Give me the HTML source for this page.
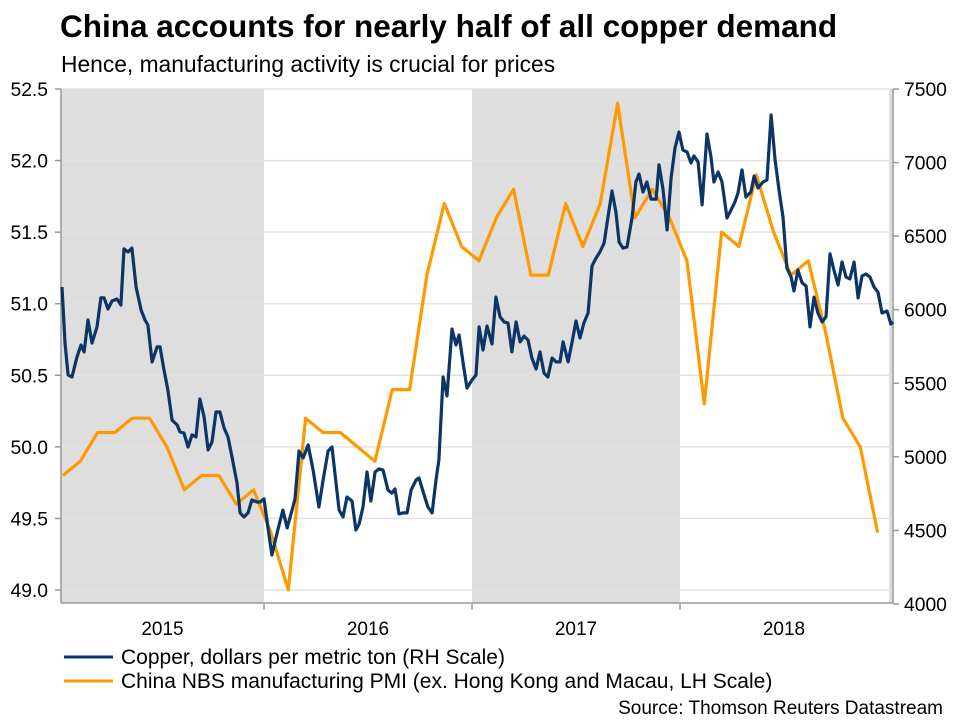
<!DOCTYPE html>
<html><head><meta charset="utf-8"><style>
body{margin:0;background:#fff;font-family:"Liberation Sans",Arial,sans-serif;}
svg{display:block}
</style></head><body>
<svg id="chart" width="960" height="720" viewBox="0 0 960 720" xmlns="http://www.w3.org/2000/svg" font-family="Liberation Sans, Arial, sans-serif">
<text x="60" y="37" font-size="31.5" font-weight="bold" fill="#000">China accounts for nearly half of all copper demand</text>
<text x="61" y="72" font-size="22.8" fill="#000">Hence, manufacturing activity is crucial for prices</text>
<g id="bg"></g><g id="grid"></g><g id="axes"></g><g id="series"></g>
<g>
<line x1="64" y1="657" x2="113" y2="657" stroke="#0a3566" stroke-width="3"/>
<text x="121" y="664" font-size="21">Copper, dollars per metric ton (RH Scale)</text>
<line x1="64" y1="681" x2="113" y2="681" stroke="#ff9900" stroke-width="3"/>
<text x="121" y="688" font-size="21">China NBS manufacturing PMI (ex. Hong Kong and Macau, LH Scale)</text>
</g>
<text x="943" y="714" font-size="19" text-anchor="end">Source: Thomson Reuters Datastream</text>
</svg>
<script>
const yearLabels=["2015","2016","2017","2018"];
const leftTicks=[49.0,49.5,50.0,50.5,51.0,51.5,52.0,52.5];
const rightTicks=[4000,4500,5000,5500,6000,6500,7000,7500];
const pmiValues=[49.8,49.9,50.1,50.1,50.2,50.2,50.0,49.7,49.8,49.8,49.6,49.7,
49.4,49.0,50.2,50.1,50.1,50.0,49.9,50.4,50.4,51.2,51.7,51.4,
51.3,51.6,51.8,51.2,51.2,51.7,51.4,51.7,52.4,51.6,51.8,51.6,
51.3,50.3,51.5,51.4,51.9,51.5,51.2,51.3,50.8,50.2,50.0,49.4];
const copperDates=[2015.029,2015.043,2015.058,2015.077,2015.101,2015.120,2015.135,2015.154,2015.173,2015.197,2015.216,2015.231,2015.250,2015.269,2015.293,2015.312,2015.327,2015.346,2015.365,2015.385,2015.409,2015.428,2015.442,2015.462,2015.486,2015.500,2015.519,2015.538,2015.558,2015.582,2015.596,2015.615,2015.635,2015.654,2015.673,2015.692,2015.712,2015.731,2015.750,2015.769,2015.788,2015.808,2015.827,2015.846,2015.870,2015.885,2015.904,2015.923,2015.942,2015.966,2015.981,2016.000,2016.014,2016.038,2016.063,2016.091,2016.111,2016.135,2016.149,2016.168,2016.188,2016.212,2016.236,2016.264,2016.284,2016.308,2016.327,2016.341,2016.361,2016.380,2016.399,2016.423,2016.442,2016.457,2016.476,2016.495,2016.514,2016.534,2016.553,2016.572,2016.596,2016.615,2016.630,2016.649,2016.668,2016.688,2016.707,2016.731,2016.745,2016.764,2016.788,2016.808,2016.827,2016.841,2016.861,2016.880,2016.904,2016.923,2016.938,2016.957,2016.976,2017.000,2017.019,2017.034,2017.053,2017.072,2017.096,2017.115,2017.135,2017.154,2017.173,2017.192,2017.212,2017.231,2017.250,2017.269,2017.288,2017.308,2017.327,2017.346,2017.365,2017.385,2017.404,2017.423,2017.438,2017.462,2017.481,2017.500,2017.519,2017.538,2017.558,2017.577,2017.596,2017.615,2017.635,2017.654,2017.673,2017.692,2017.707,2017.726,2017.745,2017.769,2017.788,2017.803,2017.822,2017.841,2017.861,2017.885,2017.899,2017.918,2017.938,2017.957,2017.976,2017.995,2018.014,2018.034,2018.053,2018.067,2018.087,2018.106,2018.130,2018.149,2018.163,2018.183,2018.202,2018.226,2018.245,2018.264,2018.279,2018.298,2018.317,2018.341,2018.356,2018.375,2018.399,2018.418,2018.438,2018.457,2018.476,2018.495,2018.514,2018.534,2018.548,2018.567,2018.587,2018.606,2018.625,2018.644,2018.663,2018.683,2018.702,2018.721,2018.740,2018.760,2018.779,2018.798,2018.817,2018.837,2018.856,2018.875,2018.894,2018.913,2018.933,2018.952,2018.971,2018.995,2019.014,2019.024];
const copperValues=[6154,5774,5556,5543,5679,5760,5713,5930,5774,5883,6080,6080,6005,6059,6073,6032,6413,6392,6419,6154,5998,5930,5896,5645,5747,5747,5590,5454,5250,5217,5169,5162,5067,5149,5135,5393,5271,5047,5101,5305,5305,5196,5135,4999,4822,4619,4591,4619,4707,4693,4693,4714,4571,4333,4483,4639,4517,4639,4714,5040,4992,5081,4911,4659,4843,5040,5067,4890,4639,4591,4727,4700,4503,4544,4659,4897,4700,4897,4918,4911,4775,4754,4782,4612,4619,4619,4775,4843,4856,4768,4659,4619,4843,4979,5543,5414,5869,5760,5828,5638,5468,5522,5556,5883,5726,5889,5767,6086,5951,5917,5910,5713,5917,5781,5821,5794,5672,5597,5713,5570,5543,5672,5645,5645,5781,5645,5781,5923,5808,5910,5978,6297,6351,6392,6453,6630,6807,6664,6460,6419,6426,6623,6868,6922,6800,6868,6752,6752,6984,6820,6542,6895,7099,7208,7085,7072,6997,7045,7004,6712,7194,7038,6868,6936,6868,6623,6678,6732,6793,6950,6766,6800,6909,6827,6868,6882,7323,7017,6814,6630,6283,6222,6127,6270,6182,6161,5883,6086,5978,5917,5951,6379,6270,6168,6324,6222,6209,6324,6080,6229,6243,6222,6154,6120,5978,5991,5903,5917];
const shadedYears=[2015,2017];

const X0=61,X1=893,Y0=89,Y1=603;
const T0=2015.024,T1=2019.024;
const xS=t=>X0+(t-T0)/(T1-T0)*(X1-X0);
const yL=v=>89+(52.5-v)/3.5*501;
const yR=v=>89+(7500-v)/3500*515;
const NS="http://www.w3.org/2000/svg";
function mk(tag,parent,attrs){const e=document.createElementNS(NS,tag);for(const k in attrs)e.setAttribute(k,attrs[k]);document.getElementById(parent).appendChild(e);return e;}

shadedYears.forEach(yr=>{
 const r=mk('rect','bg',{x:Math.max(X0,xS(yr)),y:Y0,width:xS(yr+1)-Math.max(X0,xS(yr)),height:Y1-Y0,fill:'#dedede'});
 
 
});
const strip=mk('rect','bg',{x:889,y:Y0,width:4,height:Y1-Y0,fill:'#dedede'});



leftTicks.forEach(v=>{
 const y=yL(v);
 const g=mk('line','grid',{x1:X0,x2:X1,y1:y,y2:y,stroke:'#e2e2e2','stroke-width':1.5});
 
 
 mk('line','axes',{x1:55,x2:X0,y1:y,y2:y,stroke:'#999','stroke-width':1.5});
 const t=mk('text','axes',{x:48,y:y+7,'font-size':19.3,'text-anchor':'end'});
 t.textContent=v.toFixed(1);
 
 
});
rightTicks.forEach(v=>{
 const y=yR(v);
 mk('line','axes',{x1:X1,x2:899,y1:y,y2:y,stroke:'#999','stroke-width':1.5});
 const t=mk('text','axes',{x:904,y:y+7,'font-size':19.3});
 t.textContent=v;
 
 
});
mk('line','axes',{x1:X0,x2:X0,y1:Y0,y2:Y1,stroke:'#999','stroke-width':1.5});
mk('line','axes',{x1:X1,x2:X1,y1:Y0,y2:Y1,stroke:'#999','stroke-width':1.5});
mk('line','axes',{x1:X0,x2:X1,y1:Y1,y2:Y1,stroke:'#999','stroke-width':1.5});
yearLabels.forEach((lab,i)=>{
 const yr=+lab;
 if(i>0) mk('line','axes',{x1:xS(yr),x2:xS(yr),y1:Y1,y2:610,stroke:'#999','stroke-width':1.5});
 const t=mk('text','axes',{x:(Math.max(X0,xS(yr))+Math.min(X1,xS(yr+1)))/2,y:635,'font-size':19,'text-anchor':'middle'});
 t.textContent=lab;
 
 
});

const pmiPts=pmiValues.map((v,i)=>xS(2015+(i+0.4)/12).toFixed(1)+','+yL(v).toFixed(1)).join(' ');
const pl=mk('polyline','series',{points:pmiPts,fill:'none',stroke:'#ff9900','stroke-width':3.2,'stroke-linejoin':'round'});


const cuPts=copperValues.map((v,i)=>xS(copperDates[i]).toFixed(1)+','+yR(v).toFixed(1)).join(' ');
const cl=mk('polyline','series',{points:cuPts,fill:'none',stroke:'#0a3566','stroke-width':3.2,'stroke-linejoin':'round'});


</script>
</body></html>
